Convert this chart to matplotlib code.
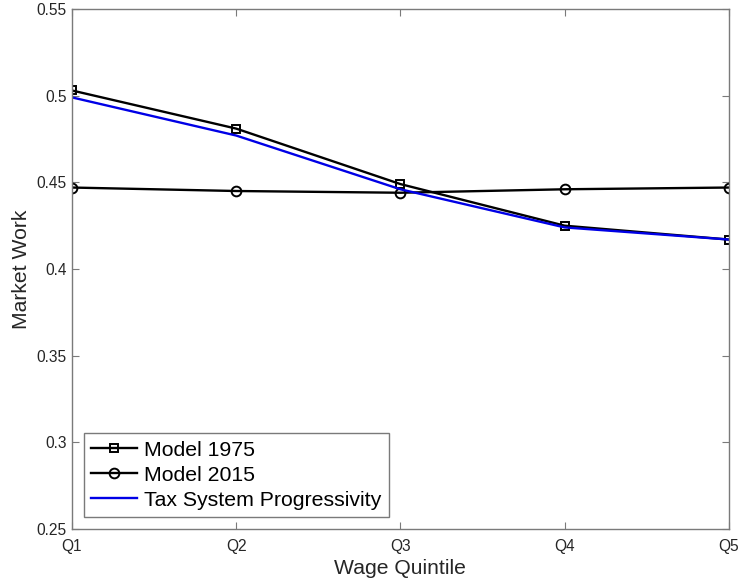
import matplotlib
matplotlib.use('Agg')
import matplotlib.pyplot as plt

# === Data ===
quintiles = ['Q1', 'Q2', 'Q3', 'Q4', 'Q5']
model_1975 = [0.503, 0.481, 0.449, 0.425, 0.417]
model_2015 = [0.447, 0.445, 0.444, 0.446, 0.447]
tax_prog = [0.499, 0.477, 0.446, 0.424, 0.417]
y_ticks = [0.25, 0.3, 0.35, 0.4, 0.45, 0.5, 0.55]
y_labels = ['0.25', '0.3', '0.35', '0.4', '0.45', '0.5', '0.55']

plt.rcParams['font.family'] = ['Liberation Sans', 'DejaVu Sans']

fig = plt.figure(figsize=(7.43, 5.88), dpi=100)
ax = fig.add_axes([0.0969, 0.1003, 0.884, 0.8844])

x = list(range(len(quintiles)))
ax.plot(x, model_1975, color='black', lw=1.7, marker='s', ms=6,
        mfc='none', mew=1.4, label='Model 1975')
ax.plot(x, model_2015, color='black', lw=1.7, marker='o', ms=7,
        mfc='none', mew=1.4, label='Model 2015')
ax.plot(x, tax_prog, color='#0000e6', lw=1.7, label='Tax System Progressivity')

ax.set_xlim(0, len(quintiles) - 1)
ax.set_ylim(0.25, 0.55)
ax.set_xticks(x)
ax.set_xticklabels(quintiles)
ax.set_yticks(y_ticks)
ax.set_yticklabels(y_labels)

# MATLAB-like look
grey = '#7a7a7a'
for s in ax.spines.values():
    s.set_color(grey)
    s.set_linewidth(1.0)
ax.tick_params(direction='in', length=5, width=0.8, color=grey,
               labelcolor='#262626', labelsize=11.2,
               top=True, right=True)
ax.tick_params(axis='x', pad=7)
ax.tick_params(axis='y', pad=4)
ax.set_xlabel('Wage Quintile', fontsize=15.2, color='#262626', labelpad=4)
ax.set_ylabel('Market Work', fontsize=15.2, color='#262626', labelpad=4)

leg = ax.legend(loc='lower left', bbox_to_anchor=(12 / 657, 12 / 520),
                borderaxespad=0, fontsize=15.3, handlelength=2.15,
                handletextpad=0.34, borderpad=0.35, labelspacing=0.28,
                fancybox=False, framealpha=1, edgecolor=grey)
leg.get_frame().set_linewidth(1.0)

fig.savefig('out.png', dpi=100)
